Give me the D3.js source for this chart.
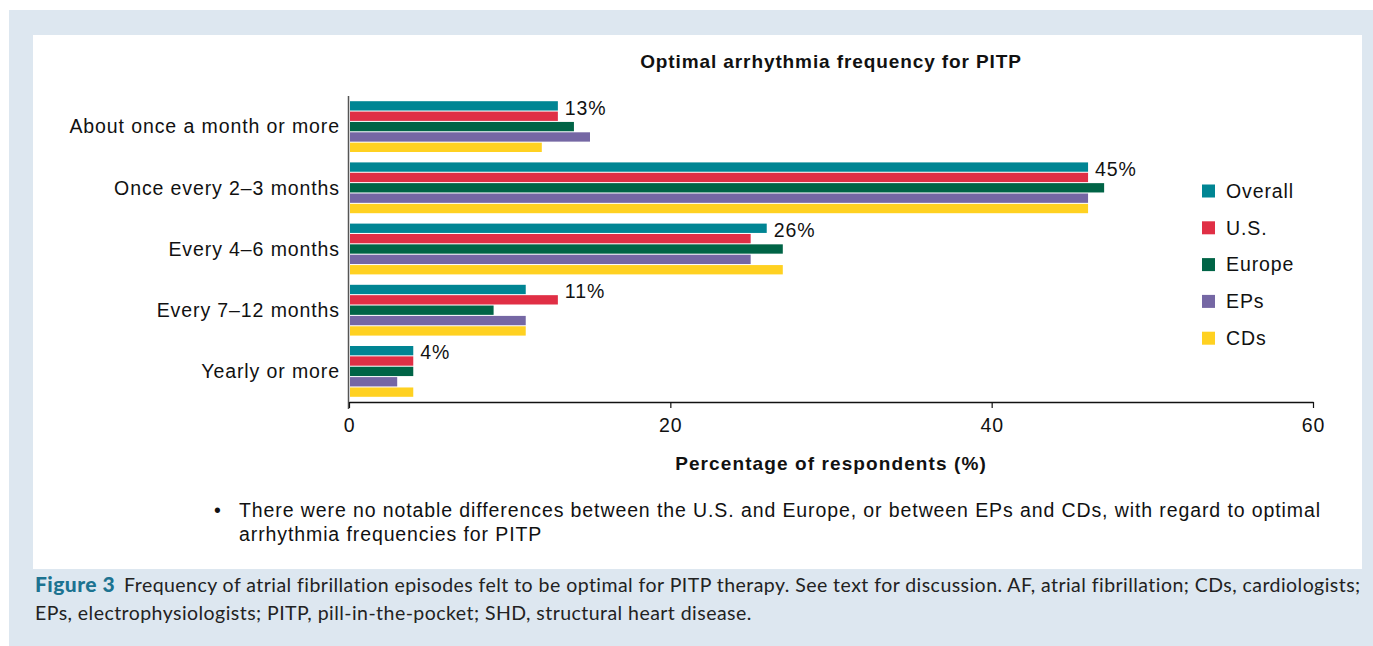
<!DOCTYPE html>
<html>
<head>
<meta charset="utf-8">
<script src="https://cdn.jsdelivr.net/npm/d3@7"></script>
<style>
  body { margin: 0; background: #fff; }
  text { font-family: "Liberation Sans", Arial, sans-serif; fill: #111; letter-spacing: 0.9px; }
  .cap { font-family: Lato, "Open Sans", sans-serif; fill: #222; letter-spacing: 0.45px; }
</style>
</head>
<body>
<svg id="chart" width="1373" height="646"></svg>
<script>
// categories (top to bottom) and series
var categories = ["About once a month or more", "Once every 2\u20133 months", "Every 4\u20136 months", "Every 7\u201312 months", "Yearly or more"];
var seriesNames = ["Overall", "U.S.", "Europe", "EPs", "CDs"];
var seriesColors = ["#008593", "#e02f45", "#006446", "#7567a4", "#ffd121"];

// values, one array per series (%)
var overall = [13, 46, 26, 11, 4];
var us      = [13, 46, 25, 13, 4];
var europe  = [14, 47, 27, 9, 4];
var eps     = [15, 46, 25, 11, 3];
var cds     = [12, 46, 27, 11, 4];

// labels printed next to each group
var groupLabels = ["13%", "45%", "26%", "11%", "4%"];
var xTicks = [0, 20, 40, 60];

var allSeries = [overall, us, europe, eps, cds];

var svg = d3.select("#chart");

// background panels
svg.append("rect").attr("x", 9).attr("y", 10).attr("width", 1364).attr("height", 636).attr("fill", "#dde7f0");
svg.append("rect").attr("x", 33).attr("y", 35).attr("width", 1329).attr("height", 534).attr("fill", "#fff");

//scales
var xScale = d3.scaleLinear().domain([0, 60]).range([349, 1313]);
var yScale = d3.scaleBand().domain(categories).range([96, 402]).paddingInner(0.17).paddingOuter(0.085);
var subScale = d3.scaleBand().domain(seriesNames).range([0, yScale.bandwidth()]).paddingInner(0.1);

// title
svg.append("text")
  .attr("x", 831).attr("y", 68)
  .attr("text-anchor", "middle")
  .style("font-size", "19px").style("font-weight", "bold")
  .text("Optimal arrhythmia frequency for PITP");

// bars
var groups = svg.selectAll(".grp")
  .data(categories)
  .enter().append("g")
    .attr("class", "grp")
    .attr("transform", function(d) { return "translate(0," + yScale(d) + ")"; });

groups.selectAll("rect")
  .data(function(d, i) { return allSeries.map(function(s, j) { return {name: seriesNames[j], v: s[i], c: seriesColors[j]}; }); })
  .enter().append("rect")
    .attr("x", xScale(0) + 1)
    .attr("y", function(d) { return subScale(d.name); })
    .attr("width", function(d) { return xScale(d.v) - xScale(0) - 1; })
    .attr("height", subScale.bandwidth())
    .attr("fill", function(d) { return d.c; });

// group labels placed right of the longer of the first two bars
groups.append("text")
  .attr("x", function(d, i) { return xScale(Math.max(overall[i], us[i])) + 7; })
  .attr("y", 6.5)
  .attr("dy", "0.35em")
  .style("font-size", "19.5px")
  .text(function(d, i) { return groupLabels[i]; });

// category labels
groups.append("text")
  .attr("x", 340)
  .attr("y", yScale.bandwidth() / 2)
  .attr("dy", "0.35em")
  .attr("text-anchor", "end")
  .style("font-size", "19.5px")
  .text(function(d) { return d; });

// y axis line
svg.append("line")
  .attr("x1", 348.5).attr("x2", 348.5).attr("y1", 96).attr("y2", 409)
  .attr("stroke", "#555").attr("stroke-width", 1.5);

// x axis
var xAxis = svg.append("g")
  .attr("transform", "translate(0,402)")
  .call(d3.axisBottom(xScale).tickValues(xTicks).tickSize(6).tickSizeOuter(0).tickPadding(10));
xAxis.select(".domain").attr("stroke", "#111").attr("stroke-width", 1.5);
xAxis.selectAll(".tick line").attr("stroke", "#111").attr("stroke-width", 1.2);
xAxis.selectAll(".tick text")
  .style("font-family", "'Liberation Sans', Arial, sans-serif")
  .style("font-size", "19.5px").style("fill", "#111");

svg.append("text")
  .attr("x", 831).attr("y", 470)
  .attr("text-anchor", "middle")
  .style("font-size", "19px").style("font-weight", "bold").style("letter-spacing", "1.1px")
  .text("Percentage of respondents (%)");

// legend
var legend = svg.selectAll(".leg")
  .data(seriesNames)
  .enter().append("g")
    .attr("class", "leg")
    .attr("transform", function(d, i) { return "translate(1202," + (191 + i * 36.8) + ")"; });
legend.append("rect")
  .attr("x", 0).attr("y", -6.5).attr("width", 13).attr("height", 13)
  .attr("fill", function(d, i) { return seriesColors[i]; });
legend.append("text")
  .attr("x", 24).attr("dy", "0.35em")
  .style("font-size", "19.5px")
  .text(function(d) { return d; });

// note under the chart
svg.append("text").attr("x", 214).attr("y", 517).style("font-size", "19.5px").text("\u2022");
svg.append("text").attr("x", 239).attr("y", 517).style("font-size", "19.5px")
  .text("There were no notable differences between the U.S. and Europe, or between EPs and CDs, with regard to optimal");
svg.append("text").attr("x", 239).attr("y", 541).style("font-size", "19.5px")
  .text("arrhythmia frequencies for PITP");

// figure caption
var cap1 = svg.append("text").attr("class", "cap").attr("x", 35).attr("y", 592).style("font-size", "19.5px");
cap1.append("tspan").style("font-weight", "900").style("fill", "#1c7391").style("font-size", "21px").text("Figure 3");
cap1.append("tspan").attr("dx", 9).text("Frequency of atrial fibrillation episodes felt to be optimal for PITP therapy. See text for discussion. AF, atrial fibrillation; CDs, cardiologists;");
svg.append("text").attr("class", "cap").attr("x", 35).attr("y", 620).style("font-size", "19.5px")
  .text("EPs, electrophysiologists; PITP, pill-in-the-pocket; SHD, structural heart disease.");
</script>
</body>
</html>
